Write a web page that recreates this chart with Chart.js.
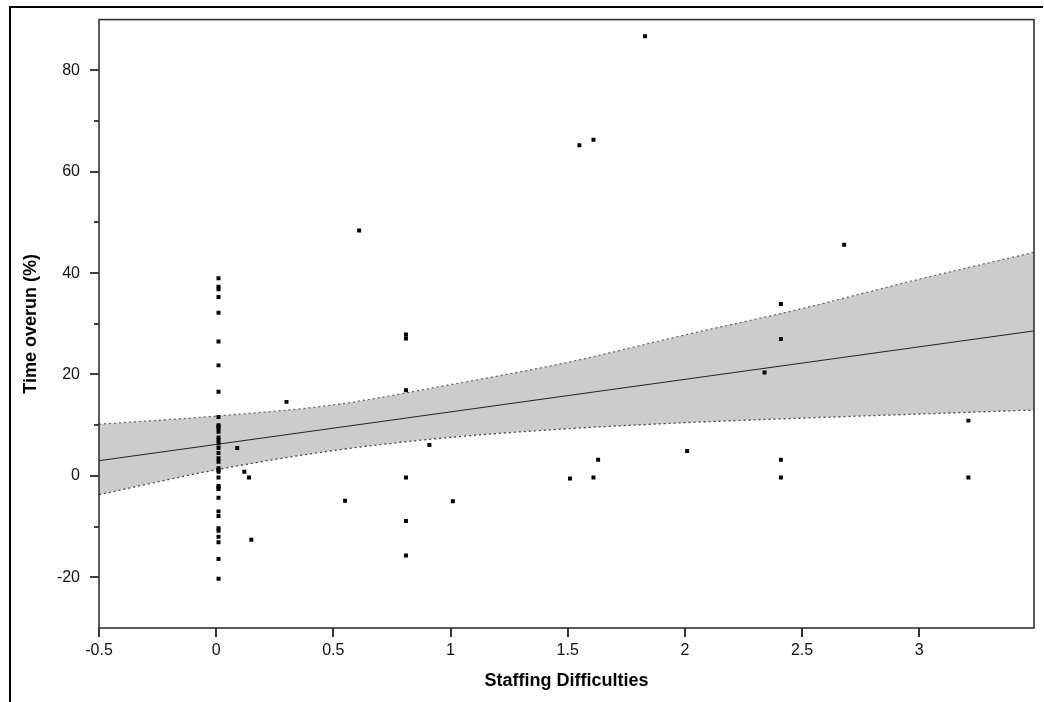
<!DOCTYPE html>
<html>
<head>
<meta charset="utf-8">
<script src="https://cdn.jsdelivr.net/npm/chart.js@4/dist/chart.umd.min.js"></script>
<style>
    body { margin: 0; background: #ffffff; }
    #wrap { position: relative; width: 1044px; height: 702px; }
    #outer-frame {
        position: absolute; left: 9px; top: 6px; width: 1032px; height: 700px;
        border-top: 2px solid #000; border-left: 2px solid #000;
        pointer-events: none;
    }
</style>
</head>
<body>
<div id="wrap">
    <canvas id="overrunChart" width="1044" height="702"></canvas>
    <div id="outer-frame"></div>
</div>
<script>
// 散點資料 (Staffing Difficulties, Time overun %)
const pointX = [
    0.01, 0.01, 0.01, 0.01, 0.01, 0.01, 0.01, 0.01, 0.01, 0.01, 0.01, 0.01,
    0.01, 0.01, 0.01, 0.01, 0.01, 0.01, 0.01, 0.01, 0.01, 0.01, 0.01, 0.01,
    0.01, 0.01, 0.01, 0.01, 0.01, 0.01, 0.01, 0.01, 0.01, 0.01, 0.01, 0.01,
    0.09, 0.12, 0.14, 0.15, 0.30, 0.55, 0.61,
    0.81, 0.81, 0.81, 0.81, 0.81, 0.81, 0.91, 1.01,
    1.51, 1.55, 1.61, 1.61, 1.63, 1.83, 2.01, 2.34,
    2.41, 2.41, 2.41, 2.41, 2.68, 3.21, 3.21
];
const pointY = [
    39.0, 37.3, 36.8, 35.3, 32.2, 26.5, 21.8, 16.6, 11.6, 10.0, 9.7, 9.4,
    8.7, 7.6, 7.1, 6.4, 5.5, 4.5, 3.5, 2.8, 1.5, 1.2, 0.8, -0.3,
    -2.0, -2.3, -2.6, -4.3, -7.0, -7.9, -10.3, -10.8, -12.0, -13.1, -16.4, -20.3,
    5.5, 0.8, -0.3, -12.6, 14.6, -4.9, 48.4,
    27.9, 27.1, 16.9, -0.3, -8.9, -15.7, 6.1, -5.0,
    -0.5, 65.2, 66.3, -0.3, 3.2, 86.7, 4.9, 20.4,
    33.9, 27.0, 3.2, -0.3, 45.6, 10.9, -0.3
];

// 迴歸線與信賴區間
const fitX = [-0.5, 3.49];
const fitY = [3.0, 28.6];
const bandX = [-0.5, 0, 0.5, 1, 1.5, 2, 2.5, 3, 3.49];
const bandUpper = [10.2, 11.8, 14.0, 18.0, 22.4, 27.8, 33.0, 38.8, 44.1];
const bandLower = [-3.7, 1.2, 5.0, 7.6, 9.3, 10.5, 11.4, 12.2, 13.0];

// 座標軸刻度
const xTicks = [-0.5, 0, 0.5, 1, 1.5, 2, 2.5, 3];
const yTicks = [-20, 0, 20, 40, 60, 80];
const yMinorTicks = [-10, 10, 30, 50, 70];

const toXY = (xs, ys) => xs.map((x, i) => ({ x: x, y: ys[i] }));

// 畫外框與刻度線
const framePlugin = {
    id: 'frame',
    afterDraw(chart) {
        const ctx = chart.ctx;
        const area = chart.chartArea;
        const xs = chart.scales.x;
        const ys = chart.scales.y;
        ctx.save();
        ctx.strokeStyle = '#000';
        ctx.lineWidth = 1.6;
        ctx.beginPath();
        xTicks.forEach(v => {
            const px = Math.round(xs.getPixelForValue(v));
            ctx.moveTo(px, area.bottom);
            ctx.lineTo(px, area.bottom + 9);
        });
        yTicks.forEach(v => {
            const py = Math.round(ys.getPixelForValue(v));
            ctx.moveTo(area.left - 9, py);
            ctx.lineTo(area.left, py);
        });
        yMinorTicks.forEach(v => {
            const py = Math.round(ys.getPixelForValue(v));
            ctx.moveTo(area.left - 5, py);
            ctx.lineTo(area.left, py);
        });
        ctx.stroke();

        ctx.strokeStyle = '#333';
        ctx.lineWidth = 1.6;
        ctx.strokeRect(area.left, area.top, area.right - area.left, area.bottom - area.top);
        ctx.restore();
    }
};

function initChart() {
    const ctx = document.getElementById('overrunChart');
    if (!ctx) return;

    const tickFont = { family: "'Liberation Sans', Arial, sans-serif", size: 16 };
    const titleFont = { family: "'Liberation Sans', Arial, sans-serif", size: 18, weight: 'bold' };

    new Chart(ctx, {
        type: 'line',
        data: {
            datasets: [
                {
                    label: 'Observed',
                    data: toXY(pointX, pointY),
                    showLine: false,
                    pointStyle: 'rect',
                    pointRadius: 2.8,
                    pointBorderWidth: 0,
                    pointBackgroundColor: '#000000'
                },
                {
                    label: 'Fit',
                    data: toXY(fitX, fitY),
                    borderColor: '#222222',
                    borderWidth: 1,
                    pointRadius: 0,
                    fill: false
                },
                {
                    label: 'Upper 95% CL',
                    data: toXY(bandX, bandUpper),
                    borderColor: '#666666',
                    borderWidth: 1.3,
                    borderDash: [2, 3],
                    cubicInterpolationMode: 'monotone',
                    pointRadius: 0,
                    backgroundColor: '#cccccc',
                    fill: '+1'
                },
                {
                    label: 'Lower 95% CL',
                    data: toXY(bandX, bandLower),
                    borderColor: '#444444',
                    borderWidth: 1.3,
                    borderDash: [2, 3],
                    cubicInterpolationMode: 'monotone',
                    pointRadius: 0,
                    fill: false
                }
            ]
        },
        options: {
            responsive: false,
            animation: false,
            layout: { padding: { top: 18, right: 10, left: 0, bottom: 0 } },
            plugins: {
                legend: { display: false },
                tooltip: { enabled: false },
                filler: { drawTime: 'beforeDatasetsDraw' }
            },
            scales: {
                x: {
                    type: 'linear',
                    min: -0.5,
                    max: 3.49,
                    afterBuildTicks: scale => { scale.ticks = xTicks.map(v => ({ value: v })); },
                    afterFit: scale => { scale.height = 74; },
                    grid: { display: true, drawOnChartArea: false, drawTicks: true, tickLength: 9, tickColor: 'rgba(0,0,0,0)' },
                    border: { display: false },
                    ticks: { color: '#111', font: tickFont, padding: 4, maxRotation: 0, callback: v => String(v) },
                    title: { display: true, text: 'Staffing Difficulties', color: '#000', font: titleFont, padding: { top: 0, bottom: 10 } }
                },
                y: {
                    type: 'linear',
                    min: -30,
                    max: 90,
                    afterBuildTicks: scale => { scale.ticks = yTicks.map(v => ({ value: v })); },
                    afterFit: scale => { scale.width = 99; },
                    grid: { display: true, drawOnChartArea: false, drawTicks: true, tickLength: 9, tickColor: 'rgba(0,0,0,0)' },
                    border: { display: false },
                    ticks: { color: '#111', font: tickFont, padding: 10, callback: v => String(v) },
                    title: { display: true, text: 'Time overun (%)', color: '#000', font: titleFont, padding: { top: 20, bottom: 0 } }
                }
            }
        },
        plugins: [framePlugin]
    });
}

document.addEventListener("DOMContentLoaded", () => {
    initChart();
});
</script>
</body>
</html>
